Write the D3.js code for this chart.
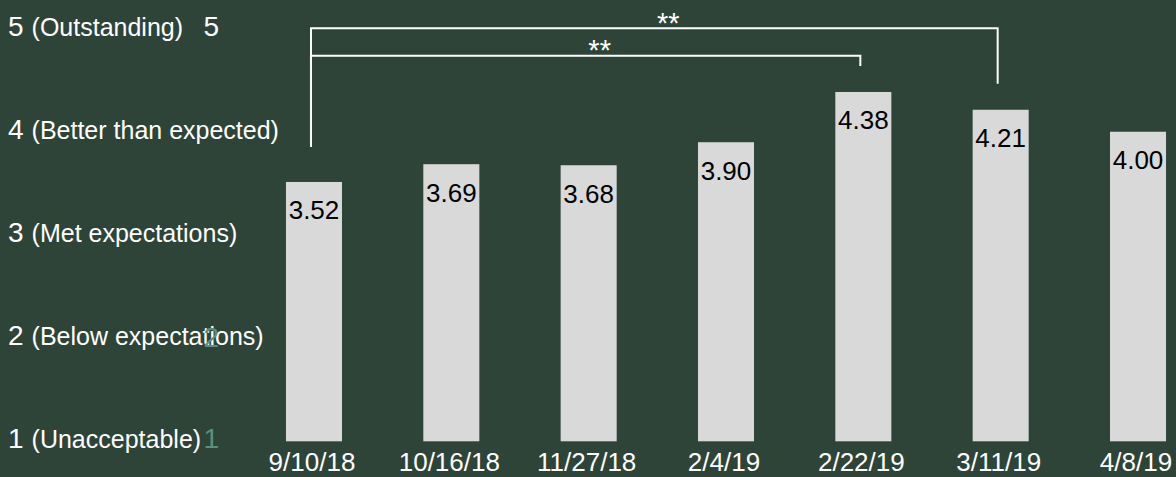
<!DOCTYPE html>
<html>
<head>
<meta charset="utf-8">
<script src="https://cdn.jsdelivr.net/npm/d3@7"></script>
<style>
  html, body { margin: 0; padding: 0; background: #2e4439; }
  svg { display: block; }
  text { font-family: "Liberation Sans", Arial, Helvetica, sans-serif; }
</style>
</head>
<body>
<svg id="chart" width="1176" height="477"></svg>
<script>
// Survey dates and mean ratings
const dates = ["9/10/18", "10/16/18", "11/27/18", "2/4/19", "2/22/19", "3/11/19", "4/8/19"];
const ratings = [3.52, 3.69, 3.68, 3.90, 4.38, 4.21, 4.00];

// Rating scale descriptions
const scaleValues = [5, 4, 3, 2, 1];
const scaleNames = ["(Outstanding)", "(Better than expected)", "(Met expectations)", "(Below expectations)", "(Unacceptable)"];

// Numeric ticks shown beside the descriptions
const tickValues = [5, 2, 1];

// Significance comparisons
const compFrom = ["9/10/18", "9/10/18"];
const compTo = ["3/11/19", "2/22/19"];
const compLabels = ["**", "**"];

const W = 1176, H = 477;
const bg = "#2e4439";
const barColor = "#d9d9d9";
const tickColors = { 5: "#ffffff", 2: "#5f8e7c", 1: "#5f8e7c" };

const svg = d3.select("#chart");
svg.append("rect").attr("width", W).attr("height", H).attr("fill", bg);

const x = d3.scaleBand()
  .domain(dates)
  .range([217.3, 1234.7])
  .paddingInner(0.592)
  .paddingOuter(0.5);

const y = d3.scaleLinear().domain([1, 5]).range([445.7, 27.1]);
const plotBottom = 441.3;

// Baselines for the rating descriptions on the left
const yLabel = d3.scaleLinear().domain([1, 5]).range([447.5, 35.5]);

const font = '"Liberation Sans", Arial, Helvetica, sans-serif';

// Bars
svg.append("g").selectAll("rect")
  .data(dates.map((d, i) => ({ date: d, v: ratings[i] })))
  .join("rect")
  .attr("x", d => x(d.date))
  .attr("width", x.bandwidth())
  .attr("y", d => y(d.v))
  .attr("height", d => plotBottom - y(d.v))
  .attr("fill", barColor);

// Value labels inside bar tops
svg.append("g").selectAll("text")
  .data(dates.map((d, i) => ({ date: d, v: ratings[i] })))
  .join("text")
  .attr("x", d => x(d.date) + x.bandwidth() / 2)
  .attr("y", d => y(d.v) + 37.5)
  .attr("text-anchor", "middle")
  .attr("font-size", 26)
  .attr("fill", "#000")
  .text(d => d3.format(".2f")(d.v));

// Category axis labels
const xAxis = d3.axisBottom(x).tickSize(0).tickPadding(0);
const gx = svg.append("g").attr("transform", `translate(0, ${plotBottom})`).call(xAxis);
gx.select(".domain").remove();
gx.selectAll("text")
  .attr("y", 0)
  .attr("dy", null)
  .attr("transform", "translate(-2, 30)")
  .attr("font-size", 26)
  .attr("font-family", font)
  .attr("fill", "#ffffff");

// Rating descriptions
const desc = svg.append("g").selectAll("text")
  .data(scaleValues.map((v, i) => ({ v, name: scaleNames[i] })))
  .join("text")
  .attr("x", 8)
  .attr("y", d => yLabel(d.v))
  .attr("fill", "#ffffff");
desc.append("tspan").attr("font-size", 28).text(d => d.v);
desc.append("tspan").attr("font-size", 25).attr("dx", 8).text(d => d.name);

// Numeric tick column
svg.append("g").selectAll("text")
  .data(tickValues)
  .join("text")
  .attr("x", 219)
  .attr("y", d => yLabel(d) + (d === 2 ? 2 : 0))
  .attr("text-anchor", "end")
  .attr("font-size", 28)
  .attr("fill", d => tickColors[d])
  .text(d => d);

// Significance brackets
const levels = [28.3, 55.7];
const leftGap = 35, rightGap = 26;
const brackets = svg.append("g");
compFrom.forEach((f, i) => {
  const vFrom = ratings[dates.indexOf(f)];
  const vTo = ratings[dates.indexOf(compTo[i])];
  const x0 = x(f) + x.bandwidth() / 2 - 3;
  const x1 = x(compTo[i]) + x.bandwidth() / 2 - 3;
  const yl = levels[i];
  brackets.append("path")
    .attr("d", d3.line()([[x0, y(vFrom) - leftGap], [x0, yl], [x1, yl], [x1, y(vTo) - rightGap]]))
    .attr("fill", "none")
    .attr("stroke", "#ffffff")
    .attr("stroke-width", 2);
  brackets.append("text")
    .attr("x", (x0 + x1) / 2 + 14)
    .attr("y", yl + 4.5)
    .attr("text-anchor", "middle")
    .attr("font-size", 29)
    .attr("fill", "#ffffff")
    .text(compLabels[i]);
});
</script>
</body>
</html>
